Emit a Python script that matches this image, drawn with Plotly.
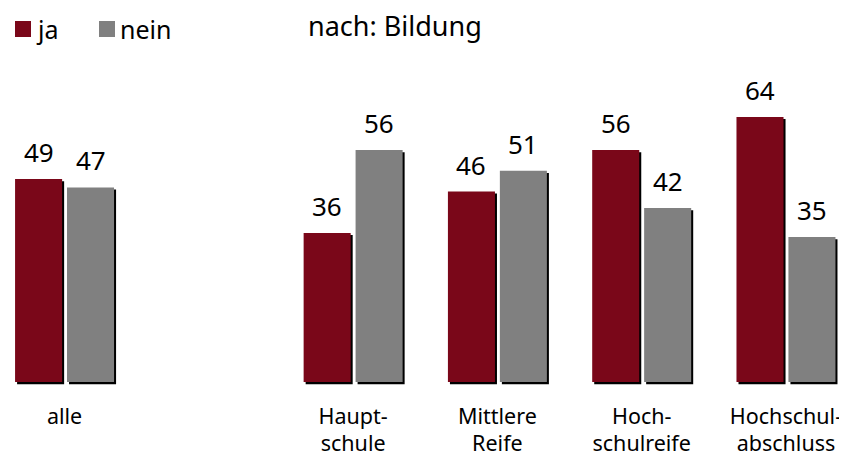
import plotly.graph_objects as go

categories = ["alle", "Haupt-<br>schule", "Mittlere<br>Reife", "Hoch-<br>schulreife", "Hochschul-<br>abschluss"]
positions = [0, 2, 3, 4, 5]
ja = [49, 36, 46, 56, 64]
nein = [47, 56, 51, 42, 35]
series_names = ["ja", "nein"]

RED = "#7a0719"
GREY = "#808080"
FONT = "Noto Sans"

FW, FH = 839, 451   # figure size (page body adds an 8px margin)
BOT = 74

W = 0.326   # bar width in x units
G = 0.017   # half gap
SH = 0.014  # shadow x shift
SY = 0.5    # shadow y shift

fig = go.Figure()
for vals, off, col, name in [(ja, -G - W, RED, series_names[0]), (nein, G, GREY, series_names[1])]:
    fig.add_trace(go.Bar(x=positions, y=vals, base=[-SY] * len(vals), width=W, offset=off + SH,
                         marker=dict(color="black", line_width=0), showlegend=False, hoverinfo="skip"))
    fig.add_trace(go.Bar(x=positions, y=vals, width=W, offset=off, name=name,
                         marker=dict(color=col, line_width=0), showlegend=False))
    for p, v in zip(positions, vals):
        fig.add_annotation(x=p + off + W / 2, y=v, text=str(v), showarrow=False, yanchor="bottom",
                           yshift=7, font=dict(size=26, color="black", family=FONT))

PH = FH - BOT
def px(x):
    return x / FW
def py(y):
    return 1 - y / PH

for name, col, x0 in [(series_names[0], RED, 7), (series_names[1], GREY, 91)]:
    fig.add_shape(type="rect", xref="paper", yref="paper", x0=px(x0), x1=px(x0 + 16),
                  y0=py(29), y1=py(13), fillcolor=col, line_width=0)
    fig.add_annotation(xref="paper", yref="paper", x=px(x0 + 19), y=py(21), xanchor="left",
                       yanchor="middle", text=name, showarrow=False,
                       font=dict(size=25, family=FONT, color="black"))

fig.add_annotation(xref="paper", yref="paper", x=px(298), y=py(17), xanchor="left", yanchor="middle",
                   text="nach: Bildung", showarrow=False, font=dict(size=27, family=FONT, color="black"))

fig.update_layout(
    width=FW, height=FH,
    margin=dict(l=0, r=0, t=0, b=BOT),
    paper_bgcolor="white", plot_bgcolor="white",
    barmode="overlay",
    font=dict(family=FONT, size=22, color="black"),
    showlegend=False,
    xaxis=dict(range=[-0.392, 5.423], tickvals=positions, ticktext=categories,
               showgrid=False, zeroline=False, showline=False, ticks="",
               tickfont=dict(size=21.5), ticklabelstandoff=16, automargin=False),
    yaxis=dict(range=[-0.7, 90.3], visible=False, showgrid=False),
)

fig.write_html("out.html")
